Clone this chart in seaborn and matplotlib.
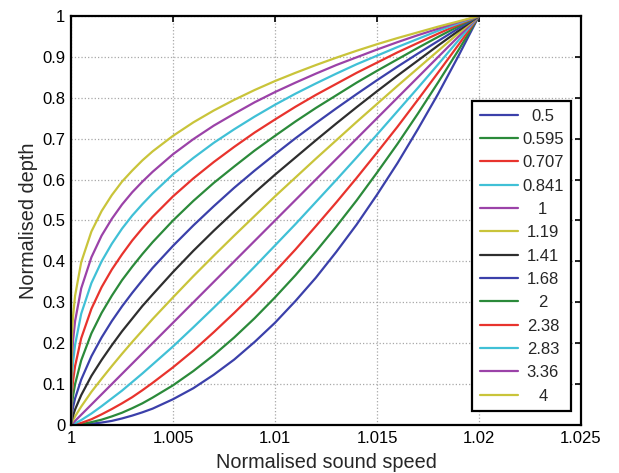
import numpy as np
import pandas as pd
import seaborn as sns
import matplotlib
matplotlib.use("Agg")
import matplotlib.pyplot as plt
from matplotlib.transforms import Affine2D

# ---- data ----
speed = [1.0, 1.00004, 1.0001, 1.0002, 1.0005, 1.001, 1.0015, 1.002, 1.0025, 1.003,
         1.0035, 1.004, 1.005, 1.006, 1.007, 1.008, 1.009, 1.010, 1.011, 1.012,
         1.013, 1.014, 1.015, 1.016, 1.017, 1.018, 1.019, 1.020]

labels = ["0.5", "0.595", "0.707", "0.841", "1", "1.19", "1.41", "1.68",
          "2", "2.38", "2.83", "3.36", "4"]

depth_0_5   = [0, 0, 0, 0, 0.001, 0.003, 0.006, 0.010, 0.016, 0.023, 0.031, 0.040, 0.063, 0.090, 0.123, 0.160, 0.203, 0.250, 0.303, 0.360, 0.423, 0.490, 0.563, 0.640, 0.723, 0.810, 0.903, 1.0]
depth_0_595 = [0, 0.000, 0.000, 0.000, 0.002, 0.007, 0.013, 0.021, 0.030, 0.041, 0.053, 0.067, 0.097, 0.132, 0.171, 0.214, 0.261, 0.312, 0.366, 0.424, 0.485, 0.549, 0.617, 0.687, 0.761, 0.838, 0.917, 1.0]
depth_0_707 = [0, 0.000, 0.001, 0.001, 0.005, 0.014, 0.026, 0.039, 0.053, 0.068, 0.085, 0.103, 0.141, 0.182, 0.227, 0.274, 0.323, 0.375, 0.429, 0.486, 0.544, 0.604, 0.666, 0.729, 0.795, 0.862, 0.930, 1.0]
depth_0_841 = [0, 0.001, 0.002, 0.004, 0.012, 0.028, 0.046, 0.065, 0.084, 0.105, 0.126, 0.148, 0.192, 0.239, 0.287, 0.336, 0.387, 0.439, 0.491, 0.545, 0.599, 0.654, 0.710, 0.767, 0.824, 0.882, 0.941, 1.0]
depth_1     = [0, 0.002, 0.005, 0.010, 0.025, 0.050, 0.075, 0.100, 0.125, 0.150, 0.175, 0.200, 0.250, 0.300, 0.350, 0.400, 0.450, 0.500, 0.550, 0.600, 0.650, 0.700, 0.750, 0.800, 0.850, 0.900, 0.950, 1.0]
depth_1_19  = [0, 0.005, 0.012, 0.021, 0.045, 0.081, 0.113, 0.144, 0.174, 0.203, 0.231, 0.259, 0.312, 0.364, 0.414, 0.463, 0.511, 0.559, 0.605, 0.651, 0.696, 0.741, 0.785, 0.829, 0.872, 0.915, 0.958, 1.0]
depth_1_41  = [0, 0.012, 0.023, 0.038, 0.073, 0.120, 0.159, 0.195, 0.229, 0.260, 0.291, 0.319, 0.374, 0.426, 0.475, 0.522, 0.568, 0.612, 0.654, 0.696, 0.737, 0.777, 0.816, 0.854, 0.891, 0.928, 0.964, 1.0]
depth_1_68  = [0, 0.025, 0.043, 0.065, 0.111, 0.168, 0.214, 0.254, 0.290, 0.323, 0.354, 0.384, 0.438, 0.488, 0.535, 0.580, 0.622, 0.662, 0.701, 0.738, 0.774, 0.809, 0.843, 0.876, 0.908, 0.939, 0.970, 1.0]
depth_2     = [0, 0.045, 0.071, 0.100, 0.158, 0.224, 0.274, 0.316, 0.354, 0.387, 0.418, 0.447, 0.500, 0.548, 0.592, 0.632, 0.671, 0.707, 0.742, 0.775, 0.806, 0.837, 0.866, 0.894, 0.922, 0.949, 0.975, 1.0]
depth_2_38  = [0, 0.073, 0.108, 0.144, 0.212, 0.284, 0.337, 0.380, 0.417, 0.451, 0.481, 0.509, 0.559, 0.603, 0.643, 0.680, 0.715, 0.747, 0.778, 0.807, 0.834, 0.861, 0.886, 0.911, 0.934, 0.957, 0.979, 1.0]
depth_2_83  = [0, 0.111, 0.154, 0.196, 0.272, 0.347, 0.400, 0.443, 0.480, 0.512, 0.540, 0.566, 0.613, 0.653, 0.690, 0.723, 0.754, 0.783, 0.810, 0.835, 0.859, 0.882, 0.903, 0.924, 0.944, 0.964, 0.982, 1.0]
depth_3_36  = [0, 0.157, 0.207, 0.254, 0.334, 0.410, 0.463, 0.504, 0.539, 0.569, 0.595, 0.619, 0.662, 0.699, 0.732, 0.761, 0.789, 0.814, 0.837, 0.859, 0.880, 0.899, 0.918, 0.936, 0.953, 0.969, 0.985, 1.0]
depth_4     = [0, 0.212, 0.266, 0.316, 0.398, 0.473, 0.523, 0.562, 0.595, 0.622, 0.647, 0.669, 0.707, 0.740, 0.769, 0.795, 0.819, 0.841, 0.861, 0.880, 0.898, 0.915, 0.931, 0.946, 0.960, 0.974, 0.987, 1.0]

series = [depth_0_5, depth_0_595, depth_0_707, depth_0_841, depth_1, depth_1_19,
          depth_1_41, depth_1_68, depth_2, depth_2_38, depth_2_83, depth_3_36, depth_4]

xticks = [1.0, 1.005, 1.01, 1.015, 1.02, 1.025]
xtick_labels = ["1", "1.005", "1.01", "1.015", "1.02", "1.025"]
yticks = [0, 0.1, 0.2, 0.3, 0.4, 0.5, 0.6, 0.7, 0.8, 0.9, 1.0]
ytick_labels = ["0", "0.1", "0.2", "0.3", "0.4", "0.5", "0.6", "0.7", "0.8", "0.9", "1"]

# ---- build long-form table ----
rows = []
for lab, ys in zip(labels, series):
    for x, y in zip(speed, ys):
        rows.append((x, y, lab))
df = pd.DataFrame(rows, columns=["speed", "depth", "p"])

# ---- style ----
sns.set_style("white")
plt.rcParams["font.family"] = ["Liberation Sans", "DejaVu Sans"]

base = ["#3b40aa", "#2b8a3a", "#e8332d", "#40c0d6", "#9b42a8", "#c9c43a", "#2e2e2e"]
palette = [base[i % 7] for i in range(len(labels))]

fig = plt.figure(figsize=(6.19, 4.73), dpi=100)
ax = fig.add_axes([71 / 619, 1 - 425 / 473, (581 - 71) / 619, (425 - 16) / 473])

sns.lineplot(data=df, x="speed", y="depth", hue="p", hue_order=labels,
             palette=palette, estimator=None, sort=False, linewidth=1.6, ax=ax)

ax.set_xlim(1.0, 1.025)
ax.set_ylim(0, 1)
ax.set_xticks(xticks)
ax.set_xticklabels(xtick_labels)
ax.set_yticks(yticks)
ax.set_yticklabels(ytick_labels)
ax.tick_params(direction="in", length=4, width=1.2, top=True, right=True,
               labelsize=12, colors="black", pad=4)
ax.grid(True, linestyle=":", color="#a8a8a8", linewidth=0.9)
for s in ax.spines.values():
    s.set_color("black")
    s.set_linewidth(1.6)
ax.set_xlabel("Normalised sound speed", fontsize=14.3, labelpad=5)
ax.set_ylabel("Normalised depth", fontsize=14.3, labelpad=3)

handles, labs = ax.get_legend_handles_labels()
leg = ax.legend(handles, labs, loc="lower left",
                bbox_to_anchor=(472 / 619, 1 - 411 / 473),
                bbox_transform=fig.transFigure,
                fontsize=12, frameon=True, fancybox=False, framealpha=1,
                handlelength=2.3, handletextpad=0.25, labelspacing=0.5,
                borderpad=0.45, borderaxespad=0)
leg.get_frame().set_edgecolor("black")
leg.get_frame().set_linewidth(1.6)
for h in leg.get_lines():
    h.set_linewidth(1.6)

# centre legend labels in their column
fig.canvas.draw()
r = fig.canvas.get_renderer()
texts = leg.get_texts()
widths = [t.get_window_extent(r).width for t in texts]
wmax = max(widths)
for t, w in zip(texts, widths):
    t.set_transform(t.get_transform() + Affine2D().translate((wmax - w) / 2, 0))

fig.savefig("out.png", dpi=100)
